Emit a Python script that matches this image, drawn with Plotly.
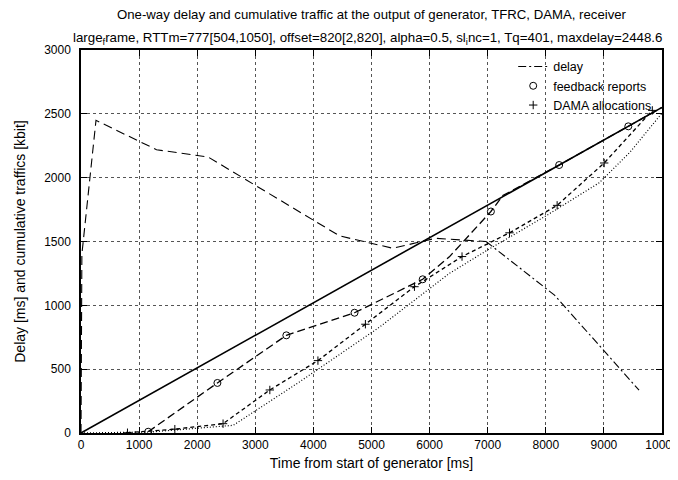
import plotly.graph_objects as go

# cumulative traffic at generator output (solid)
gen_x = [0, 10000]
gen_y = [0, 2550]

# delay curve (first part long-dashed, tail dash-dot)
delay_x = [0, 15, 258, 1300, 2188, 4450, 5366, 6100, 6971]
delay_y = [0, 1400, 2449, 2219, 2162, 1544, 1447, 1525, 1500]
delay_tail_x = [6971, 8150, 9605]
delay_tail_y = [1500, 1080, 335]

# feedback reports
fb_line_x = [1157, 2348, 3534, 4708, 5881, 6340, 7055, 7260, 8230, 9420, 10000]
fb_line_y = [10, 392, 765, 942, 1204, 1380, 1735, 1860, 2099, 2402, 2550]
fb_pts_x = [1157, 2348, 3534, 4708, 5881, 7055, 8230, 9420]
fb_pts_y = [10, 392, 765, 942, 1204, 1735, 2099, 2402]

# DAMA allocations
dama_x = [800, 1615, 2445, 3250, 4078, 4895, 5739, 6558, 7375, 8195, 9005, 9833]
dama_y = [2, 30, 73, 337, 567, 852, 1146, 1382, 1568, 1783, 2115, 2527]

# received cumulative traffic (dotted)
recv_x = [0, 1200, 2620, 3760, 5140, 6340, 7000, 8000, 8920, 9450, 9990]
recv_y = [0, 8, 60, 400, 830, 1250, 1434, 1700, 1960, 2200, 2500]

x_ticks = [0, 1000, 2000, 3000, 4000, 5000, 6000, 7000, 8000, 9000, 10000]
y_ticks = [0, 500, 1000, 1500, 2000, 2500, 3000]

title_1 = "One-way delay and cumulative traffic at the output of generator, TFRC, DAMA, receiver"
title_2 = ("large<sub>f</sub>rame, RTTm=777[504,1050], offset=820[2,820], alpha=0.5, "
           "sl<sub>i</sub>nc=1, Tq=401, maxdelay=2448.6")

fig = go.Figure()
fig.add_trace(go.Scatter(x=gen_x, y=gen_y, mode="lines", showlegend=False,
                         line=dict(color="black", width=1.6)))
fig.add_trace(go.Scatter(x=delay_x, y=delay_y, mode="lines", showlegend=False,
                         line=dict(color="black", width=1.1, dash="9px,5px")))
fig.add_trace(go.Scatter(x=delay_tail_x, y=delay_tail_y, mode="lines", name="delay",
                         line=dict(color="black", width=1.1, dash="8px,3px,2px,3px")))
fig.add_trace(go.Scatter(x=fb_line_x, y=fb_line_y, mode="lines", showlegend=False,
                         line=dict(color="black", width=1.3, dash="8px,4px")))
fig.add_trace(go.Scatter(x=fb_pts_x, y=fb_pts_y, mode="markers", name="feedback reports",
                         marker=dict(symbol="circle-open", size=7, color="black",
                                     line=dict(width=1, color="black"))))
fig.add_trace(go.Scatter(x=dama_x, y=dama_y, mode="lines", showlegend=False,
                         line=dict(color="black", width=1.3, dash="4px,3px")))
fig.add_trace(go.Scatter(x=dama_x, y=dama_y, mode="markers", name="DAMA allocations",
                         marker=dict(symbol="cross-thin-open", size=6, color="black",
                                     line=dict(width=1, color="black"))))
fig.add_trace(go.Scatter(x=recv_x, y=recv_y, mode="lines", showlegend=False,
                         line=dict(color="black", width=1.2, dash="1px,2px")))

font = "Liberation Sans, Arial, sans-serif"
# the page body adds an 8px margin, so the figure is laid out from (8, 8)
fig.update_layout(
    width=670, height=472,
    margin=dict(l=73, r=16, t=42, b=47),
    paper_bgcolor="white", plot_bgcolor="white",
    font=dict(family=font, size=12, color="black"),
    title=dict(text=title_1, x=0.5, xanchor="center", xref="paper",
               y=1, yref="container", yanchor="top", pad=dict(t=2),
               font=dict(family=font, size=13.2, color="black")),
    annotations=[dict(text=title_2, x=0.5, y=1, xref="paper", yref="paper",
                      xanchor="center", yanchor="bottom", yshift=1, xshift=-4,
                      showarrow=False,
                      font=dict(family=font, size=13.3, color="black"))],
    legend=dict(x=0.99, xanchor="right", y=0.995, yanchor="top",
                bgcolor="rgba(0,0,0,0)", borderwidth=0,
                font=dict(family=font, size=12.5), tracegroupgap=0,
                itemwidth=30),
    xaxis=dict(range=[0, 10000], tickvals=x_ticks, ticktext=[str(v) for v in x_ticks],
               showgrid=True, gridcolor="#555", griddash="dot", gridwidth=1,
               zeroline=False, showline=True, linecolor="black", linewidth=1.5,
               mirror="ticks", ticks="inside", ticklen=6, tickcolor="black",
               tickfont=dict(size=12), automargin=False, ticklabeloverflow="allow",
               title=dict(text="Time from start of generator [ms]", standoff=7,
                          font=dict(size=14))),
    yaxis=dict(range=[0, 3000], tickvals=y_ticks, ticktext=[str(v) for v in y_ticks],
               showgrid=True, gridcolor="#555", griddash="dot", gridwidth=1,
               zeroline=False, showline=True, linecolor="black", linewidth=1.5,
               mirror="ticks", ticks="inside", ticklen=6, tickcolor="black",
               tickfont=dict(size=12), automargin=False, ticklabelstandoff=6,
               title=dict(text="Delay [ms] and cumulative traffics [kbit]", standoff=15,
                          font=dict(size=14))),
)

fig.write_html("out.html")
